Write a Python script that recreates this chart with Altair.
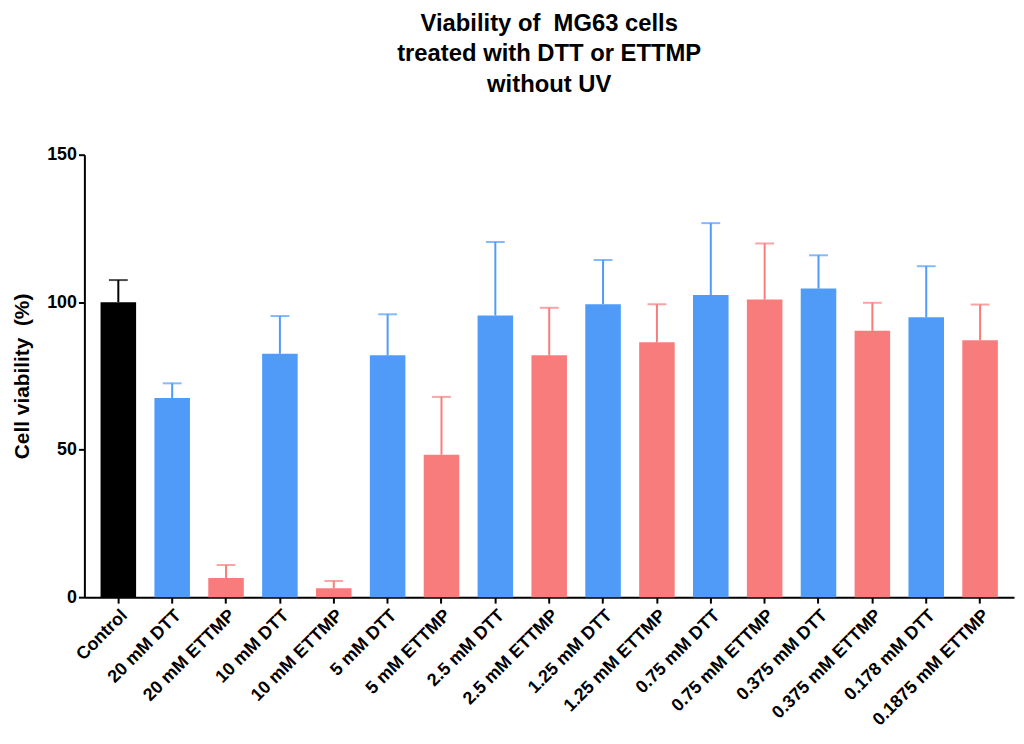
import altair as alt
import pandas as pd

labels = ["Control", "20 mM DTT", "20 mM ETTMP", "10 mM DTT", "10 mM ETTMP",
          "5 mM DTT", "5 mM ETTMP", "2.5 mM DTT", "2.5 mM ETTMP", "1.25 mM DTT",
          "1.25 mM ETTMP", "0.75 mM DTT", "0.75 mM ETTMP", "0.375 mM DTT",
          "0.375 mM ETTMP", "0.178 mM DTT", "0.1875 mM ETTMP"]
groups = ["Control", "DTT", "ETTMP", "DTT", "ETTMP", "DTT", "ETTMP", "DTT", "ETTMP",
          "DTT", "ETTMP", "DTT", "ETTMP", "DTT", "ETTMP", "DTT", "ETTMP"]
means = [100, 67.5, 6.5, 82.5, 3.0, 82.0, 48.3, 95.5, 82.0, 99.3, 86.4,
         102.4, 100.9, 104.6, 90.3, 94.9, 87.1]
uppers = [107.5, 72.5, 10.9, 95.3, 5.5, 95.9, 67.9, 120.4, 98.1, 114.3, 99.3,
          126.8, 119.9, 115.9, 99.8, 112.2, 99.2]

df = pd.DataFrame({"label": labels, "group": groups, "mean": means, "upper": uppers})

FONT = "Liberation Sans"

x = alt.X("label:N", sort=labels,
          scale=alt.Scale(paddingInner=0.34, paddingOuter=0.3),
          axis=alt.Axis(title=None, labelAngle=-45, labelFontSize=18, labelFontWeight="bold",
                        labelFont=FONT, labelColor="black", tickSize=6, tickWidth=2,
                        tickColor="black", domainColor="black", domainWidth=2,
                        labelPadding=3, labelOverlap=False, labelBound=False))
y_scale = alt.Scale(domain=[0, 150], nice=False)
y_axis = alt.Axis(title="Cell viability\u00a0 (%)", values=[0, 50, 100, 150], grid=False,
                  labelFontSize=18, labelFontWeight="bold", labelFont=FONT, labelColor="black",
                  titleFontSize=21, titleFontWeight="bold", titleFont=FONT, titleColor="black",
                  tickSize=6, tickWidth=2, tickColor="black", domainColor="black",
                  domainWidth=2, labelPadding=2, titlePadding=14)
color = alt.Color("group:N",
                  scale=alt.Scale(domain=["Control", "DTT", "ETTMP"],
                                  range=["#000000", "#509bf8", "#f97c7c"]),
                  legend=None)

bars = alt.Chart(df).mark_bar().encode(
    x=x, y=alt.Y("mean:Q", scale=y_scale, axis=y_axis), color=color)
rules = alt.Chart(df).mark_rule(strokeWidth=2).encode(
    x=alt.X("label:N", sort=labels), y="mean:Q", y2="upper:Q", color=color)
caps = alt.Chart(df).mark_tick(thickness=2, size=19).encode(
    x=alt.X("label:N", sort=labels), y="upper:Q", color=color)

chart = alt.layer(bars, rules, caps).properties(
    width=937, height=446,
    title=alt.TitleParams(["Viability of\u00a0 MG63 cells", "treated with DTT or ETTMP", "without UV"],
                          fontSize=24, fontWeight="bold", font=FONT, color="black",
                          lineHeight=31, anchor="middle", offset=49),
    padding={"left": 77, "top": 145, "right": 2, "bottom": 130},
    autosize=alt.AutoSizeParams(type="none"),
).configure(background="white").configure_view(stroke=None)

chart.save("out.html", embed_options={"renderer": "svg", "actions": False})
